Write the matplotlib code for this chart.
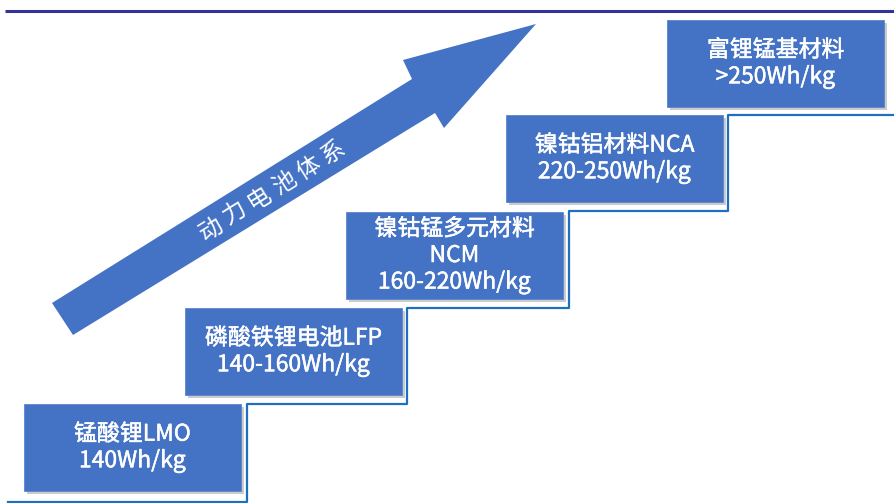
import matplotlib
matplotlib.use("Agg")
import matplotlib.pyplot as plt
import matplotlib.patheffects as pe
from matplotlib.patches import Rectangle, Polygon

plt.rcParams['font.family'] = ['Noto Sans CJK SC', 'DejaVu Sans']

# battery systems, bottom step to top step
names = ["锰酸锂LMO", "磷酸铁锂电池LFP", "镍钴锰多元材料\nNCM", "镍钴铝材料NCA", "富锂锰基材料"]
energy = ["140Wh/kg", "140-160Wh/kg", "160-220Wh/kg", "220-250Wh/kg", ">250Wh/kg"]
arrow_label = "动力电池体系"

# layout (pixel coords, y down)
box_left = [24, 185, 346, 506, 667]
box_top = [404, 308, 212, 115, 20]
box_w = 217
box_h = 87
stair_x = [8, 247, 247, 407, 407, 569, 569, 728, 728, 895]
stair_y = [502, 502, 404, 404, 308, 308, 211, 211, 115, 115]
arrow_pts = [(52, 303), (73, 335), (435, 113), (444, 128), (536, 24), (403, 60), (412, 79)]
label_start = (211, 229)
label_end = (333, 153)

box_color = "#4472C4"

fig = plt.figure(figsize=(8.95, 5.03), dpi=100)
ax = fig.add_axes([0, 0, 1, 1])
ax.set_xlim(0, 895)
ax.set_ylim(503, 0)
ax.axis("off")

# header rule
ax.plot([5, 895], [11, 11], color="#333399", lw=2.2, solid_capstyle="butt")

# staircase outline
ax.plot(stair_x, stair_y, color="#1F6FC0", lw=1.6)

# big arrow
ax.add_patch(Polygon(arrow_pts, closed=True, facecolor=box_color, edgecolor="none", zorder=2))
n = len(arrow_label)
for k, ch in enumerate(arrow_label):
    t = k / (n - 1)
    cx = label_start[0] + t * (label_end[0] - label_start[0])
    cy = label_start[1] + t * (label_end[1] - label_start[1])
    ax.text(cx, cy, ch, rotation=32, color="white", fontsize=17,
            ha="center", va="center", fontweight="light", zorder=3)

bold_ish = [pe.withStroke(linewidth=0.35, foreground="white")]
for i in range(len(names)):
    x, y = box_left[i], box_top[i]
    ax.add_patch(Rectangle((x + 3, y + 3), box_w, box_h, facecolor="#999999",
                           alpha=0.5, edgecolor="none", zorder=3))
    ax.add_patch(Rectangle((x, y), box_w, box_h, facecolor=box_color,
                           edgecolor="#5A86D0", lw=0.6, zorder=4))
    ax.text(x + box_w / 2, y + box_h / 2, names[i] + "\n" + energy[i],
            color="white", fontsize=16.5, ha="center", va="center",
            linespacing=1.2, zorder=5, path_effects=bold_ish)

fig.savefig("out.png", dpi=100)
